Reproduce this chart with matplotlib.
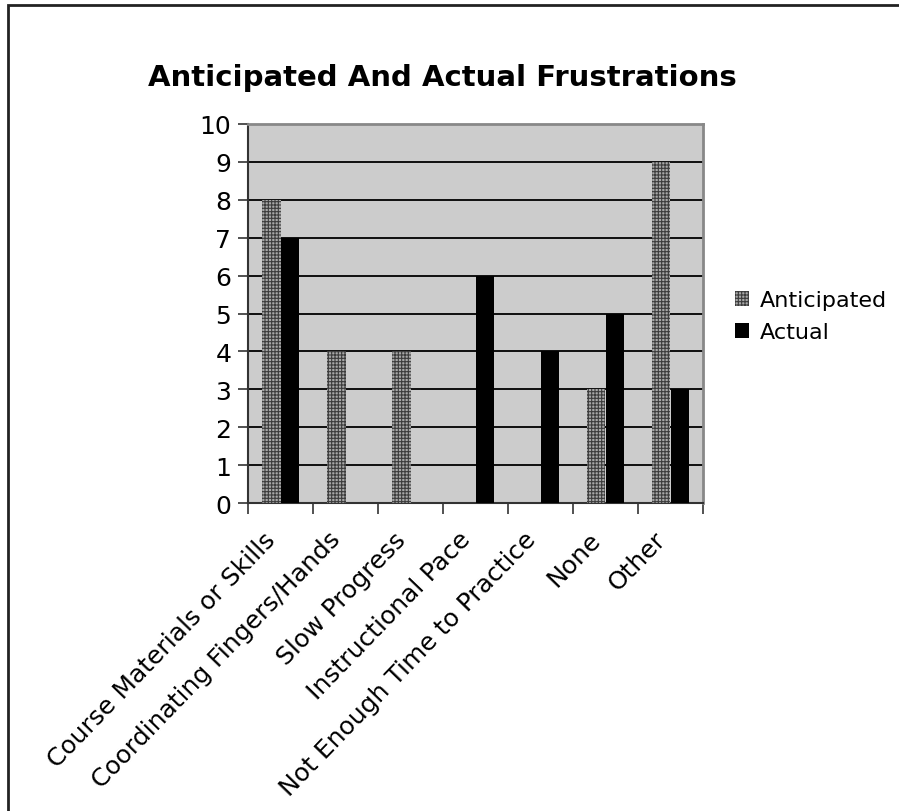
import matplotlib.pyplot as plt
import matplotlib.transforms as mtransforms
import numpy as np

categories = ["Course Materials or Skills", "Coordinating Fingers/Hands", "Slow Progress",
              "Instructional Pace", "Not Enough Time to Practice", "None", "Other"]
anticipated = [8, 4, 4, 0, 0, 3, 9]
actual = [7, 0, 0, 6, 4, 5, 3]

plt.rcParams['font.family'] = ['DejaVu Sans']
plt.rcParams['hatch.linewidth'] = 0.8

fig = plt.figure(figsize=(8.99, 8.12), dpi=100)
ax = fig.add_axes([248 / 899, 1 - 504 / 812, 455 / 899, 379 / 812])

# frame around the whole chart
fig.patches.append(plt.Rectangle((8 / 899, -0.05), 1.1, 1 - 6 / 812 + 0.05,
                                 transform=fig.transFigure, fill=False,
                                 edgecolor='#222222', linewidth=2))

x = np.arange(len(categories))
w = 0.285
ax.set_facecolor('#cccccc')
ax.bar(x - w / 2, anticipated, w, color='#a8a8a8', edgecolor='#3c3c3c',
       hatch='+++++', linewidth=0, label='Anticipated', zorder=3)
ax.bar(x + w / 2, actual, w, color='black', linewidth=0, label='Actual', zorder=3)

ax.set_xlim(-0.5, len(categories) - 0.5)
ax.set_ylim(0, 10)
ax.set_yticks(range(11))
ax.yaxis.grid(True, color='black', linewidth=1.3, zorder=1)
ax.set_axisbelow(True)
ax.tick_params(axis='y', labelsize=18, length=7, width=1.2, color='#333333', pad=5)

ax.set_xticks(x)
ax.set_xticklabels(categories, rotation=46, ha='right', va='top',
                   rotation_mode='anchor', fontsize=18)
ax.set_xticks(np.arange(-0.5, len(categories)), minor=True)
ax.tick_params(axis='x', which='major', length=0, pad=0)
ax.tick_params(axis='x', which='minor', length=8, width=1.2, color='#333333')

# move the slanted labels so their ends sit left of and below each group
shift = mtransforms.ScaledTranslation(-17 / 100, -24 / 100, fig.dpi_scale_trans)
for lbl in ax.get_xticklabels():
    lbl.set_transform(lbl.get_transform() + shift)

for side in ('left', 'bottom'):
    ax.spines[side].set_color('#333333')
    ax.spines[side].set_linewidth(1.5)
for side in ('top', 'right'):
    ax.spines[side].set_color('#888888')
    ax.spines[side].set_linewidth(2)

fig.text(442 / 899, 1 - 78 / 812, "Anticipated And Actual Frustrations",
         ha='center', va='center', fontsize=21, fontweight='bold')

fig.legend(loc='center left', bbox_to_anchor=(715 / 899, 1 - 317 / 812),
           frameon=False, fontsize=16, handlelength=0.65, handleheight=0.65,
           handletextpad=0.45, labelspacing=0.55)

fig.savefig('out.png', dpi=100)
